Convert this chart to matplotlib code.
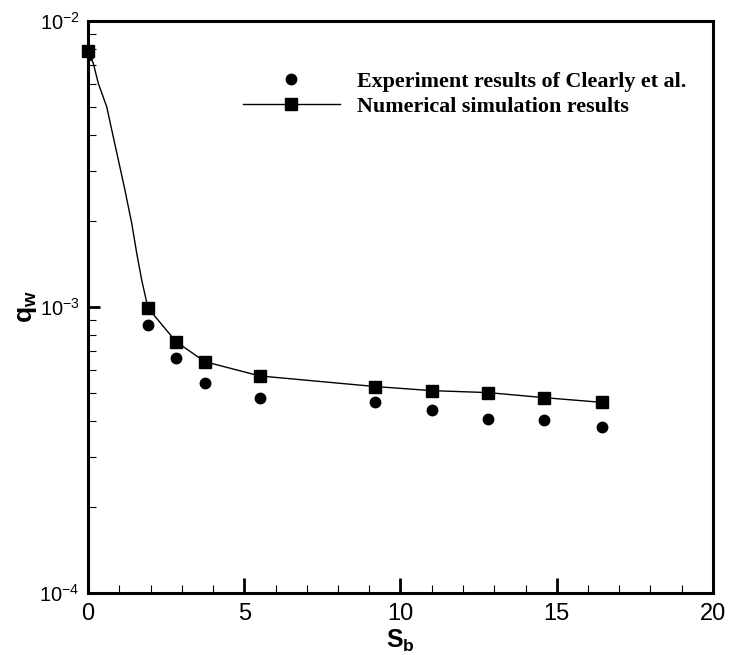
import matplotlib
matplotlib.use("Agg")
import matplotlib.pyplot as plt
from matplotlib.ticker import LogLocator, MultipleLocator, NullFormatter

sb_exp = [0.0, 1.92, 2.82, 3.74, 5.5, 9.2, 11.0, 12.8, 14.6, 16.45]
qw_exp = [7.6e-3, 8.65e-4, 6.62e-4, 5.41e-4, 4.80e-4, 4.65e-4, 4.36e-4, 4.06e-4, 4.03e-4, 3.82e-4]

sb_num = [0.0, 1.92, 2.82, 3.74, 5.5, 9.2, 11.0, 12.8, 14.6, 16.45]
qw_num = [7.86e-3, 9.92e-4, 7.56e-4, 6.44e-4, 5.74e-4, 5.27e-4, 5.10e-4, 5.02e-4, 4.82e-4, 4.64e-4]

sb_curve = [0.0, 0.17, 0.33, 0.60, 0.76, 0.97, 1.18, 1.40, 1.56, 1.72, 1.92,
            2.82, 3.74, 5.5, 9.2, 11.0, 12.8, 14.6, 16.45]
qw_curve = [7.86e-3, 7.11e-3, 6.05e-3, 5.01e-3, 4.16e-3, 3.27e-3, 2.57e-3, 1.96e-3,
            1.54e-3, 1.24e-3, 9.92e-4, 7.56e-4, 6.44e-4, 5.74e-4, 5.27e-4, 5.10e-4,
            5.02e-4, 4.82e-4, 4.64e-4]

plt.rcParams['mathtext.fontset'] = 'custom'
plt.rcParams['mathtext.rm'] = 'Liberation Sans'
plt.rcParams['mathtext.bf'] = 'Liberation Sans:bold'
plt.rcParams['font.family'] = ['Liberation Sans', 'DejaVu Sans']

fig = plt.figure(figsize=(7.29, 6.55), dpi=100)
ax = fig.add_axes([88 / 729, 1 - 593 / 655, 625 / 729, 572 / 655])

ax.plot(sb_curve, qw_curve, "-", color="black", lw=1.0)
ax.plot(sb_exp, qw_exp, "o", color="black", ms=7.5, label="Experiment results of Clearly et al.")
h, = ax.plot([], [], "-s", color="black", lw=1.0, ms=8, label="Numerical simulation results")
ax.plot(sb_num, qw_num, "s", color="black", ms=8, clip_on=False, zorder=5)

ax.set_yscale("log")
ax.set_xlim(0, 20)
ax.set_ylim(1e-4, 1e-2)
ax.xaxis.set_major_locator(MultipleLocator(5))
ax.xaxis.set_minor_locator(MultipleLocator(1))
ax.yaxis.set_major_locator(LogLocator(base=10, numticks=10))
ax.yaxis.set_minor_locator(LogLocator(base=10, subs=range(2, 10), numticks=10))
ax.yaxis.set_minor_formatter(NullFormatter())

for s in ax.spines.values():
    s.set_linewidth(2.2)
ax.tick_params(axis="x", which="major", direction="in", length=11, width=2, pad=7, labelsize=17)
ax.tick_params(axis="x", which="minor", direction="in", length=6, width=0.8)
ax.tick_params(axis="y", which="major", direction="in", length=8.5, width=2, pad=6, labelsize=14.5)
ax.tick_params(axis="y", which="minor", direction="in", length=6, width=0.8)

ax.set_xlabel(r"$\mathbf{S_b}$", fontsize=18)
ax.set_ylabel(r"$\mathbf{q_w}$", fontsize=19)
ax.xaxis.set_label_coords(0.5, -0.06)
ax.yaxis.set_label_coords(-0.078, 0.5)

ax.legend(loc="upper left", bbox_to_anchor=(0.248, 0.912), frameon=False,
          prop={"family": "Liberation Serif", "weight": "bold", "size": 15.8},
          handlelength=4.4, handletextpad=0.8, labelspacing=0.22,
          borderpad=0, borderaxespad=0, numpoints=1)

fig.savefig("out.png", dpi=100)
